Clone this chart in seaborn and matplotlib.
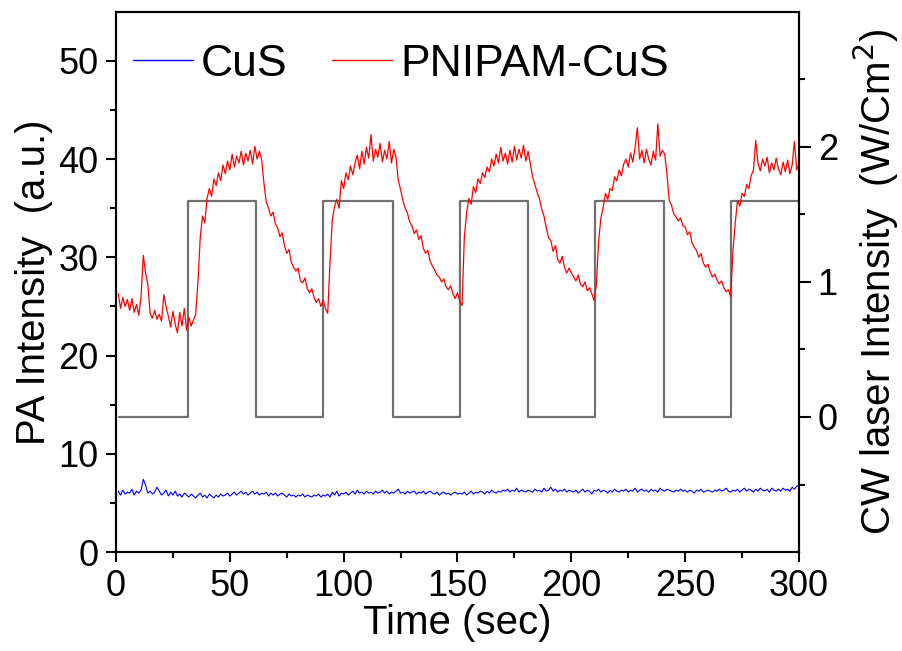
import numpy as np
import pandas as pd
import matplotlib
matplotlib.use("Agg")
import matplotlib.pyplot as plt
from matplotlib.ticker import FixedLocator
import seaborn as sns

# ---------------- data ----------------
time_s = list(range(1, 301))

pnipam_cus = [
    26.3, 24.8, 25.9, 25.0, 25.7, 24.6, 25.8, 24.4, 25.2, 24.1,
    26.0, 30.2, 28.4, 27.2, 24.3, 23.8, 24.6, 23.7, 24.2, 23.5,
    26.2, 25.0, 24.0, 22.9, 24.5, 23.2, 22.3, 24.4, 23.0, 24.8,
    22.6, 23.9, 23.0, 23.6, 24.2, 27.5, 32.0, 34.2, 33.5, 36.0,
    37.0, 36.2, 38.0, 37.3, 38.6, 37.8, 39.4, 38.5, 39.8, 38.9,
    40.5, 39.2, 40.3, 39.6, 40.8, 39.4, 40.6, 39.8, 40.9, 39.5,
    41.3, 40.0, 40.8, 39.9, 37.5, 35.6, 35.0, 34.2, 34.6, 33.4,
    33.0, 32.1, 32.5, 31.2, 30.4, 30.8, 29.5, 29.0, 28.6, 28.9,
    27.6, 27.4, 27.9, 26.8, 26.4, 26.8, 25.9, 25.4, 25.8, 25.0,
    25.6, 24.8, 24.3, 29.5, 33.8, 35.2, 35.9, 35.0, 37.8, 37.0,
    38.6, 37.9, 39.3, 38.4, 39.6, 40.4, 39.0, 40.8, 39.5, 41.2,
    40.1, 42.5, 39.8, 41.0, 40.2, 41.6, 39.7, 40.9, 40.0, 41.8,
    39.6, 41.0, 40.2, 37.8, 36.9, 35.8, 35.0, 34.5, 33.6, 33.2,
    32.4, 32.8, 31.8, 32.2, 30.9, 30.4, 30.7, 29.6, 29.1, 28.7,
    28.2, 28.0, 27.5, 27.8, 27.0, 26.7, 27.1, 26.3, 25.8, 26.4,
    25.5, 25.1, 32.0, 34.5, 36.0, 35.4, 37.2, 36.6, 38.0, 37.5,
    38.6, 38.1, 39.2, 38.7, 40.0, 39.3, 40.5, 39.6, 41.2, 39.8,
    40.6, 39.5, 40.9, 39.7, 41.3, 39.9, 41.0, 40.1, 41.4, 39.8,
    40.8, 39.5, 38.2, 37.4, 36.6, 36.0, 34.9, 34.2, 33.0, 32.0,
    31.7, 30.6, 31.2, 29.8, 29.4, 30.1, 29.0, 28.4, 28.9, 28.4,
    28.0, 27.6, 28.2, 27.3, 27.0, 27.5, 26.6, 26.9, 26.3, 25.6,
    27.2, 31.7, 34.0, 35.1, 36.5, 35.9, 37.0, 36.8, 38.2, 37.8,
    38.9, 38.3, 39.5, 40.0, 39.2, 40.6, 39.7, 41.2, 43.2, 40.0,
    40.9, 39.6, 41.0, 40.0, 39.4, 40.8, 39.9, 43.6, 40.3, 40.9,
    40.5, 38.5, 35.8, 35.3, 34.4, 34.1, 33.7, 34.0, 33.2, 33.1,
    32.3, 32.6, 31.5, 31.0, 30.7, 30.0, 30.4, 29.4, 29.0, 29.3,
    28.5, 28.0, 28.3, 27.7, 27.3, 27.6, 26.9, 26.5, 26.7, 26.0,
    30.7, 33.5, 35.8, 35.2, 36.5, 36.2, 37.4, 37.0, 38.3, 38.9,
    41.9, 39.5, 38.8, 40.0, 39.3, 40.2, 38.6, 39.6, 38.9, 40.1,
    39.0, 38.4, 39.7, 38.7, 39.9, 38.5, 39.4, 41.8, 38.9, 39.6,
]

cus = [
    6.2, 5.8, 6.3, 5.9, 6.1, 6.0, 6.4, 5.8, 6.2, 6.0,
    6.3, 7.4, 6.8, 6.0, 6.2, 5.9, 6.1, 6.6, 6.2, 5.8,
    6.0, 6.3, 5.7, 6.1, 5.8, 6.2, 5.7, 5.9, 5.6, 6.0,
    5.8, 5.6, 5.9, 5.7, 5.5, 5.8, 6.0, 5.6, 5.8, 5.5,
    5.9, 5.7, 5.5, 5.8, 5.6, 5.9, 5.7, 5.8, 6.0, 5.7,
    5.9, 6.1, 5.8, 6.0, 6.2, 5.9, 6.1, 5.8, 6.0, 6.2,
    5.9, 6.1, 5.8, 6.0, 5.9, 6.1, 5.7, 6.0, 5.8, 6.0,
    5.7, 5.9, 6.0, 5.8, 5.6, 5.9, 5.7, 5.8, 5.6, 5.8,
    5.7, 5.9, 5.6, 5.8, 5.7, 5.6, 5.8, 5.7, 5.9, 5.6,
    5.8, 5.7, 5.9, 5.6, 6.1, 5.8, 6.2, 5.7, 6.0, 5.9,
    6.1, 5.8, 6.0, 6.2, 5.9, 6.3, 6.0, 6.1, 5.9, 6.2,
    6.0, 6.1, 5.9, 6.2, 6.0, 6.1, 6.3, 6.0, 6.2, 5.9,
    6.1, 6.0, 6.2, 6.4, 6.0, 6.1, 5.9, 6.2, 6.0, 6.1,
    6.2, 5.9, 6.1, 6.0, 6.2, 5.9, 6.1, 6.2, 6.0, 5.9,
    6.1, 5.8, 6.0, 6.1, 5.9, 6.0, 5.8, 6.0, 6.1, 5.9,
    6.0, 5.9, 6.1, 5.8, 6.0, 6.2, 5.9, 6.1, 6.0, 6.2,
    6.1, 5.9, 6.2, 6.0, 6.3, 6.1, 6.0, 6.2, 6.1, 6.3,
    6.2, 6.4, 6.1, 6.3, 6.2, 6.5, 6.1, 6.3, 6.2, 6.1,
    6.3, 6.2, 6.1, 6.4, 6.2, 6.3, 6.1, 6.5, 6.2, 6.3,
    6.6, 6.2, 6.4, 6.1, 6.3, 6.2, 6.4, 6.1, 6.3, 6.2,
    6.1, 6.3, 6.0, 6.2, 6.4, 6.1, 6.3, 6.2, 5.9, 6.3,
    6.2, 6.4, 6.1, 6.3, 6.2, 6.0, 6.3, 6.1, 6.4, 6.2,
    6.1, 6.3, 6.2, 6.4, 6.1, 6.3, 6.2, 6.5, 6.1, 6.3,
    6.4, 6.2, 6.3, 6.1, 6.4, 6.2, 6.3, 6.1, 6.5, 6.3,
    6.2, 6.4, 6.3, 6.2, 6.1, 6.3, 6.2, 6.4, 6.2, 6.3,
    6.1, 6.3, 6.2, 6.0, 6.3, 6.2, 6.4, 6.1, 6.2, 6.3,
    6.2, 6.1, 6.3, 6.2, 6.4, 6.2, 6.3, 6.5, 6.2, 6.1,
    6.3, 6.2, 6.4, 6.1, 6.3, 6.5, 6.2, 6.4, 6.3, 6.1,
    6.4, 6.2, 6.5, 6.3, 6.2, 6.4, 6.1, 6.5, 6.3, 6.2,
    6.4, 6.2, 6.5, 6.3, 6.4, 6.2, 6.6, 6.4, 6.7, 6.8,
]

# CW laser on/off schedule (switching times, level after each switch)
laser_t = [1.5, 31.5, 61.5, 91.0, 121.5, 151.0, 181.0, 210.5, 240.5, 270.0, 300.0]
laser_level = [0.0, 1.6, 0.0, 1.6, 0.0, 1.6, 0.0, 1.6, 0.0, 1.6, 1.6]

x_ticks = [0, 50, 100, 150, 200, 250, 300]
x_minor = [25, 75, 125, 175, 225, 275]
y_ticks = [0, 10, 20, 30, 40, 50]
y_minor = [5, 15, 25, 35, 45]
y2_ticks = [0, 1, 2]
y2_minor = [-0.5, 0.5, 1.5, 2.5]

# ---------------- style ----------------
sns.set_theme(style="ticks")
plt.rcParams["font.family"] = ["Liberation Sans", "DejaVu Sans"]
plt.rcParams["axes.linewidth"] = 1.5
plt.rcParams["text.color"] = "black"
plt.rcParams["axes.labelcolor"] = "black"
plt.rcParams["xtick.color"] = "black"
plt.rcParams["ytick.color"] = "black"
plt.rcParams["axes.edgecolor"] = "black"

fig = plt.figure(figsize=(9.02, 6.51), dpi=100)
ax = fig.add_axes([0.1286, 0.152, 0.7572, 0.830])
ax2 = ax.twinx()

df_pa = pd.DataFrame({"t": time_s, "PNIPAM-CuS": pnipam_cus, "CuS": cus})
df_laser = pd.DataFrame({"t": laser_t, "P": laser_level})

sns.lineplot(data=df_pa, x="t", y="CuS", ax=ax, color="#0000ff", lw=0.8,
             label="CuS", errorbar=None)
sns.lineplot(data=df_pa, x="t", y="PNIPAM-CuS", ax=ax, color="#ff0000", lw=0.9,
             label="PNIPAM-CuS", errorbar=None)
sns.lineplot(data=df_laser, x="t", y="P", ax=ax2, color="#707070", lw=1.6,
             drawstyle="steps-post", errorbar=None, legend=False)

ax.set_zorder(ax2.get_zorder() + 1)
ax.patch.set_visible(False)

ax.set_xlim(0, 300)
ax.set_ylim(0, 55)
ax2.set_ylim(-1, 3)

ax.xaxis.set_major_locator(FixedLocator(x_ticks))
ax.xaxis.set_minor_locator(FixedLocator(x_minor))
ax.yaxis.set_major_locator(FixedLocator(y_ticks))
ax.yaxis.set_minor_locator(FixedLocator(y_minor))
ax2.yaxis.set_major_locator(FixedLocator(y2_ticks))
ax2.yaxis.set_minor_locator(FixedLocator(y2_minor))

for a in (ax, ax2):
    for s in a.spines.values():
        s.set_visible(True)
        s.set_linewidth(1.5)
        s.set_color("black")

ax.tick_params(axis="both", which="major", direction="out", length=7.5, width=1.5,
               labelsize=26, pad=5, colors="black")
ax.tick_params(axis="both", which="minor", direction="out", length=4, width=1.5,
               colors="black")
ax.tick_params(axis="y", which="both", right=False)
ax.tick_params(axis="x", which="both", top=False)
ax2.tick_params(axis="y", which="major", direction="out", length=8.5, width=1.5,
                labelsize=26, pad=5, colors="black")
ax2.tick_params(axis="y", which="minor", direction="out", length=4.5, width=1.5,
                colors="black")

ax.set_xlabel("Time (sec)", fontsize=29, labelpad=0, color="black")
ax.set_ylabel("PA Intensity  (a.u.)", fontsize=29, labelpad=4, color="black")
ax2.set_ylabel("CW laser Intensity  (W/Cm$^2$)", fontsize=29, labelpad=10,
               color="black")

leg = ax.legend(loc="center left", bbox_to_anchor=(0.025, 0.903), ncol=2,
                frameon=False, fontsize=32, handlelength=1.35, handletextpad=0.18,
                columnspacing=1.0, borderpad=0, borderaxespad=0)
for h in leg.get_lines():
    h.set_linewidth(1.0)
for t in leg.get_texts():
    t.set_color("black")

fig.savefig("out.png", dpi=100)
